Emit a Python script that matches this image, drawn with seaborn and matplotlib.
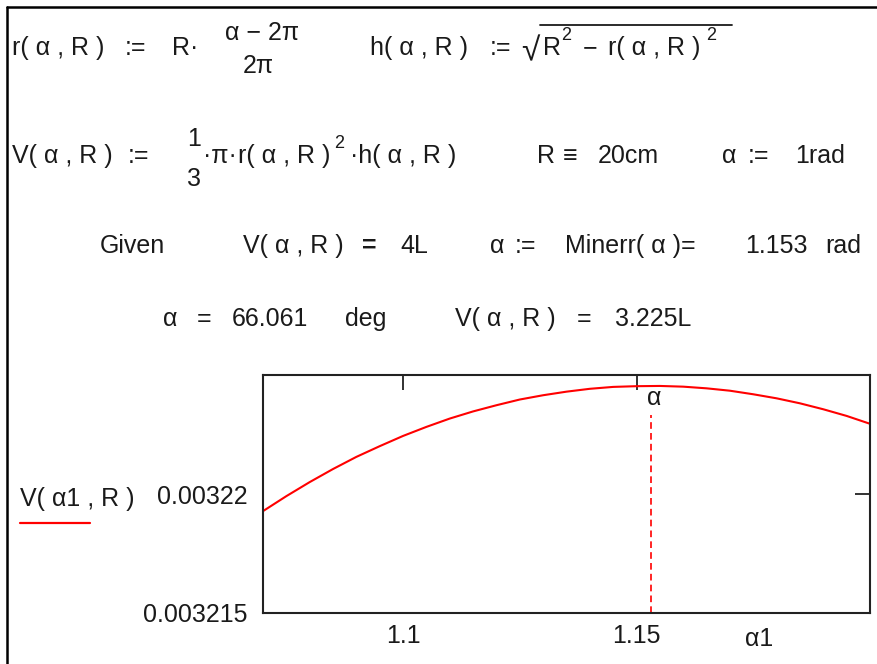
import matplotlib
matplotlib.use("Agg")
import matplotlib.pyplot as plt
import pandas as pd
import seaborn as sns
from matplotlib.lines import Line2D

# ---- data ----
alpha1 = [1.070, 1.075, 1.080, 1.085, 1.090, 1.095, 1.100, 1.105, 1.110, 1.115,
          1.120, 1.125, 1.130, 1.135, 1.140, 1.145, 1.150, 1.155, 1.160, 1.165,
          1.170, 1.175, 1.180, 1.185, 1.190, 1.195, 1.200]
V_alpha1 = [0.00321928, 0.00321991, 0.00322050, 0.00322105, 0.00322156, 0.00322201,
            0.00322244, 0.00322282, 0.00322317, 0.00322347, 0.00322373, 0.00322397,
            0.00322415, 0.00322430, 0.00322442, 0.00322450, 0.00322453, 0.00322454,
            0.00322451, 0.00322444, 0.00322434, 0.00322419, 0.00322402, 0.00322381,
            0.00322356, 0.00322328, 0.00322295]
alpha_min = 1.153
x_ticks = [1.1, 1.15]
x_tick_labels = ["1.1", "1.15"]
y_ticks = [0.003215, 0.00322]
y_tick_labels = ["0.003215", "0.00322"]
x_limits = [1.07, 1.20]
y_limits = [0.003215, 0.003225]

sns.set_theme(style="white")
plt.rcParams["font.family"] = ["Liberation Sans", "DejaVu Sans"]

W, H = 877, 664
TXT = "#1a1a1a"
FS = 18
fig = plt.figure(figsize=(W / 100, H / 100), dpi=100)


def T(x, y, s, size=FS, ha="left", va="baseline", **kw):
    fig.text(x / W, 1 - y / H, s, fontsize=size, color=kw.pop("color", TXT),
             ha=ha, va=va, **kw)


def L(xs, ys, **kw):
    fig.add_artist(Line2D([x / W for x in xs], [1 - y / H for y in ys], **kw))


# frame border of the worksheet
L([7, 7], [7, H], color="black", lw=1.8)
L([7, W], [7, 7], color="black", lw=1.8)

# ---- plot ----
ax = fig.add_axes([263 / W, 1 - 613 / H, (870 - 263) / W, (613 - 375) / H])
df = pd.DataFrame({"alpha1": alpha1, "V": V_alpha1})
sns.lineplot(data=df, x="alpha1", y="V", color="red", lw=1.5, ax=ax)
ax.axvline(alpha_min, ymin=0, ymax=0.83, color="red", ls=(0, (4, 2.5)), lw=1.2)
ax.set_xlim(x_limits)
ax.set_ylim(y_limits)
ax.set_xticks(x_ticks)
ax.set_xticklabels(x_tick_labels)
ax.set_yticks(y_ticks)
ax.set_yticklabels(y_tick_labels)
ax.set_xlabel("")
ax.set_ylabel("")
ax.tick_params(direction="in", length=11, width=1.3, top=True, right=True,
               labelsize=FS, colors="#222222", labelcolor=TXT)
ax.tick_params(axis="x", pad=8)
ax.tick_params(axis="y", pad=11)
for sp in ax.spines.values():
    sp.set_color("#222222")
    sp.set_linewidth(1.5)

T(654, 398, "α", ha="center", va="center")
T(759, 639, "α1", ha="center", va="center")
T(20, 506, "V( α1 , R )")
L([20, 90], [523, 523], color="red", lw=1.6)

# ---- worksheet equations ----
# row 1
T(12, 55, "r( α , R )")
T(125, 55, ":=")
T(172, 55, "R·")
T(262, 40, "α − 2π", ha="center")
T(258, 73, "2π", ha="center")
T(370, 55, "h( α , R )")
T(490, 55, ":=")
T(521, 60, "√", size=24)
L([540, 732], [25, 25], color=TXT, lw=1.3)
T(543, 55, "R")
T(561, 40, "2", size=13)
T(583, 55, "−")
T(608, 55, "r( α , R )")
T(706, 40, "2", size=13)
# row 2
T(12, 163, "V( α , R )")
T(128, 163, ":=")
T(194, 146, "1", ha="center")
T(194, 186, "3", ha="center")
T(203, 163, "·π·")
T(238, 163, "r( α , R )")
T(334, 148, "2", size=13)
T(350, 163, "·h( α , R )")
T(537, 163, "R")
T(563, 163, "≡")
T(598, 163, "20cm")
T(722, 163, "α")
T(748, 163, ":=")
T(795, 163, "1rad")
# row 3
T(100, 253, "Given")
T(243, 253, "V( α , R )")
T(362, 253, "=", weight="bold")
T(400, 253, "4L")
T(490, 253, "α")
T(515, 253, ":=")
T(565, 253, "Minerr( α )=")
T(745, 253, "1.153")
T(825, 253, "rad")
# row 4
T(163, 326, "α")
T(197, 326, "=")
T(232, 326, "66.061")
T(345, 326, "deg")
T(455, 326, "V( α , R )")
T(577, 326, "=")
T(615, 326, "3.225L")

fig.savefig("out.png", dpi=100)
